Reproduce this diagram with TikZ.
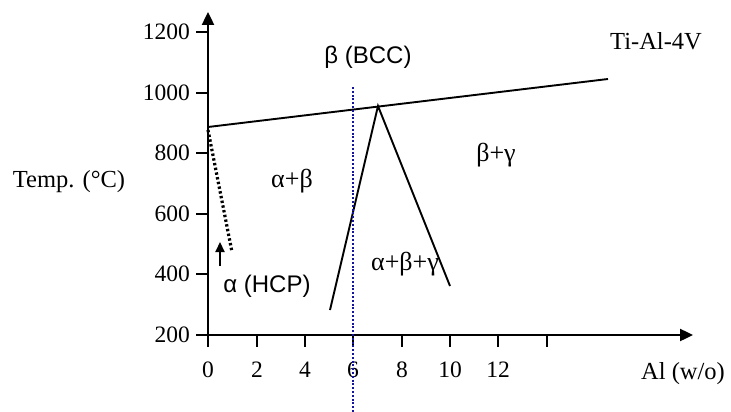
\documentclass[tikz,border=0pt]{standalone}
\usepackage{fontspec}
\setmainfont{Liberation Serif}
\newfontfamily\sansf{Liberation Sans}
\usetikzlibrary{arrows.meta}
\begin{document}
\begin{tikzpicture}[x=1pt,y=-1pt,
  lbl/.style={font=\fontsize{23.5}{26}\selectfont, inner sep=0pt},
  biglbl/.style={font=\fontsize{24.5}{27}\selectfont, inner sep=0pt},
  greeklbl/.style={font=\fontsize{26}{28}\selectfont, inner sep=0pt},
  sanslbl/.style={font=\sansf\fontsize{24}{26}\selectfont, inner sep=0pt},
  axis/.style={line width=2.4pt},
  phase/.style={line width=1.9pt},
  tick/.style={line width=2.2pt}]
\useasboundingbox (0,0) rectangle (731,412);
% axes
\coordinate (O) at (208,335);
\coordinate (ytop) at (208,12);
\coordinate (xend) at (693,335);
\draw[axis,-{Triangle[length=13pt,width=12pt]}] (O) -- (ytop);
\draw[axis,-{Triangle[length=13pt,width=12pt]}] (O) -- (xend);
% y ticks
\foreach \v/\y in {200/335,400/274,600/214,800/153,1000/93,1200/32}{
  \draw[tick] (196,\y) -- (208,\y);
  \node[lbl,anchor=east] (yl\v) at (190,\y) {\v};
}
% x ticks
\foreach \i/\x in {0/208,2/257,4/305,6/353,8/402,10/450,12/498}{
  \draw[tick] (\x,335) -- (\x,347);
  \node[lbl] (xl\i) at (\x,370) {\i};
}
\draw[tick] (547,335) -- (547,347);
% phase lines
\coordinate (tl) at (208,127);
\coordinate (tr) at (608,79);
\coordinate (pk) at (378,106);
\coordinate (ll) at (330,310);
\coordinate (rl) at (450,286);
\draw[phase] (tl) -- (tr);
\draw[phase] (ll) -- (pk) -- (rl);
\coordinate (d1) at (208,130);
\coordinate (d2) at (232,252);
\draw[line width=3.2pt, dash pattern=on 2.4pt off 2.4pt] (d1) -- (d2);
\coordinate (a1) at (220,266);
\coordinate (a2) at (220,242);
\draw[line width=2.2pt,-{Triangle[length=10pt,width=9pt]}] (a1) -- (a2);
% blue dotted line
\coordinate (b1) at (353,87);
\coordinate (b2) at (353,412);
\draw[color={rgb,255:red,20;green,20;blue,160}, line width=2pt, dash pattern=on 2pt off 1.8pt] (b1) -- (b2);
% labels
\node[biglbl] (temp) at (69,182) {Temp. (°C)};
\node[biglbl] (tial) at (656,41) {Ti-Al-4V};
\node[biglbl] (alw) at (683,374) {Al (w/o)};
\node[sanslbl] (bcc) at (368,57) {β (BCC)};
\node[sanslbl] (hcp) at (267,286) {α (HCP)};
\node[greeklbl] (ab) at (292,181) {α+β};
\node[greeklbl] (bg) at (496,155) {β+γ};
\node[greeklbl] (abg) at (405,264) {α+β+γ};
\end{tikzpicture}
\end{document}
